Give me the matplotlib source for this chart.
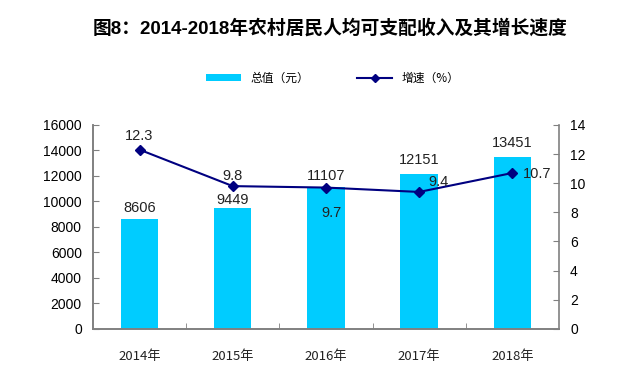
import matplotlib.pyplot as plt
import numpy as np
from matplotlib.patches import Patch
from matplotlib.lines import Line2D

plt.rcParams['font.family'] = ['Liberation Sans', 'Noto Sans CJK SC']

years = ['2014年', '2015年', '2016年', '2017年', '2018年']
income = [8606, 9449, 11107, 12151, 13451]
growth = [12.3, 9.8, 9.7, 9.4, 10.7]

# label offsets (points), layout only
bar_off = [(0, 3), (0, 1), (0, 3), (0, 5), (0, 5)]
line_off = [(0, 10), (0, 7), (4, -18), (14, 7), (18, -1)]

bar_color = '#00CCFF'
line_color = '#000080'
axis_color = '#808080'

fig = plt.figure(figsize=(6.28, 3.82), dpi=100)
ax1 = fig.add_axes([0.148, 0.139, 0.742, 0.534])
ax2 = ax1.twinx()

x = np.arange(len(years))
ax1.bar(x, income, width=0.4, color=bar_color, zorder=2)
ax2.plot(x, growth, color=line_color, linewidth=1.5, marker='D', markersize=5, zorder=3)

ax1.set_xlim(-0.5, len(years) - 0.5)
ax1.set_ylim(0, 16000)
ax1.set_yticks(np.arange(0, 16001, 2000))
ax2.set_ylim(0, 14)
ax2.set_yticks(np.arange(0, 15, 2))

ax1.set_xticks(x)
ax1.set_xticklabels(years, fontsize=9.5, family=['Noto Sans CJK SC'], color='#222222')
ax1.set_xticks(np.arange(0.5, len(years) - 1, 1), minor=True)
ax1.tick_params(axis='x', which='major', length=0, pad=15)
ax1.tick_params(axis='x', which='minor', direction='in', length=4, color=axis_color)
ax1.tick_params(axis='y', direction='in', length=4, color=axis_color, labelsize=10, pad=8)
ax2.tick_params(axis='y', direction='in', length=4, color=axis_color, labelsize=10, pad=8)

for a in (ax1, ax2):
    a.spines['top'].set_visible(False)
    for s in ('left', 'right', 'bottom'):
        a.spines[s].set_color(axis_color)
        a.spines[s].set_linewidth(1.2)
ax1.spines['right'].set_visible(False)

for i, v in enumerate(income):
    ax1.annotate(str(v), (x[i], v), xytext=bar_off[i], textcoords='offset points',
                 ha='center', va='bottom', fontsize=10.5, color='#222222')
for i, v in enumerate(growth):
    ax2.annotate(str(v), (x[i], v), xytext=line_off[i], textcoords='offset points',
                 ha='center', va='center', fontsize=10.5, color='#222222')

fig.text(0.525, 0.925, '图8：2014-2018年农村居民人均可支配收入及其增长速度',
         ha='center', va='center', fontsize=13.5, fontweight='bold')

handles = [Patch(facecolor=bar_color, edgecolor='none'),
           Line2D([], [], color=line_color, marker='D', markersize=4, linewidth=1.5)]
fig.legend(handles, ['总值（元）', '增速（%）'], loc='center', bbox_to_anchor=(0.53, 0.796),
           ncol=2, frameon=False, handlelength=3, handleheight=0.5, columnspacing=4,
           prop={'family': ['Noto Sans CJK SC'], 'size': 8.5})

fig.savefig('out.png', dpi=100)
